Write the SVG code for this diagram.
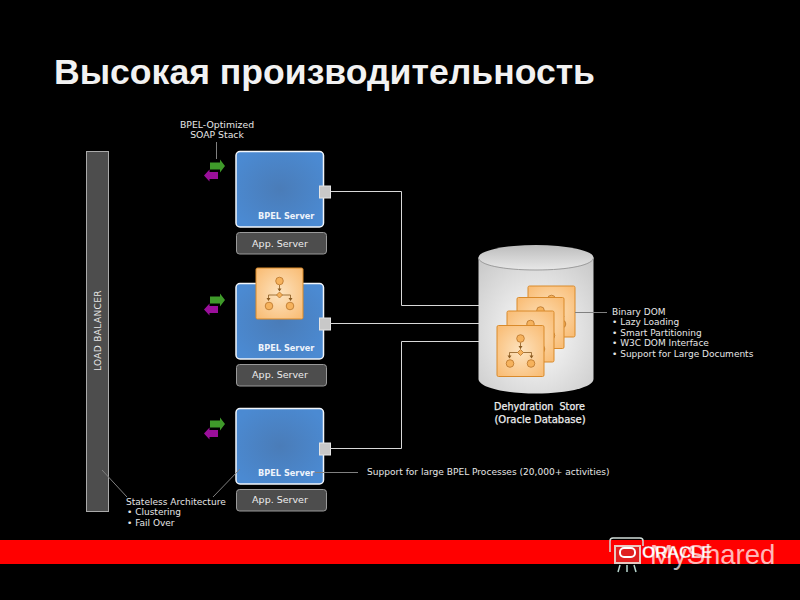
<svg xmlns="http://www.w3.org/2000/svg" width="800" height="600" viewBox="0 0 800 600">
<style>
text{font-family:"DejaVu Sans","Liberation Sans",sans-serif;font-size:9px;fill:#e6e6e6}
.title{font-family:"Liberation Sans",Arial,sans-serif;font-size:35.6px;font-weight:bold;fill:#f2f2f2}
.bp{font-weight:bold;fill:#eef3fb;font-size:8.2px}
.app{font-size:9.5px;text-anchor:middle;fill:#eee}
.db{font-size:9.6px;text-anchor:middle;fill:#eee;stroke:#eee;stroke-width:.25;white-space:pre}
.conn{fill:none;stroke:#d8d8d8;stroke-width:1}
.lead{fill:none;stroke:#808080;stroke-width:1}
.server{fill:url(#blue);stroke:#f2f6fb;stroke-width:1.5}
.appbox{fill:#4d4d4d;stroke:#9a9a9a;stroke-width:1}
.port{fill:#c8c8c8;stroke:#e4e4e4;stroke-width:1}
.page{fill:url(#peach);stroke:#d98a2b;stroke-width:1}
.n{fill:#f6b25c;stroke:#b8742a;stroke-width:.8}
.l{fill:none;stroke:#8a5a20;stroke-width:.8}
.h{fill:#8a5a20}
.mark{font-family:"Liberation Sans",sans-serif}
</style>
<defs>
<radialGradient id="blue" cx="50%" cy="50%" r="60%"><stop offset="0" stop-color="#4a7cb8"/><stop offset="1" stop-color="#4b8ad2"/></radialGradient>
<radialGradient id="peach" cx="50%" cy="50%" r="65%"><stop offset="0" stop-color="#fde3bf"/><stop offset="1" stop-color="#f9bd76"/></radialGradient>
<radialGradient id="cyl" cx="50%" cy="55%" r="70%"><stop offset="0" stop-color="#ffffff"/><stop offset="1" stop-color="#cacaca"/></radialGradient>
<linearGradient id="cyltop" x1="0" y1="0" x2="0" y2="1"><stop offset="0" stop-color="#bcbcbc"/><stop offset="1" stop-color="#e8e8e8"/></linearGradient>
<g id="doc">
<rect class="page" x="0" y="0" width="47" height="51" rx="1.5"/>
<path class="l" d="M23.500 17V23M12.500 31V27H34.500V31"/>
<path class="h" d="M21.500 20.500h4l-2 3zM10.500 30h4l-2 3zM32.500 30h4l-2 3z"/>
<circle class="n" cx="23.500" cy="13" r="3.800"/>
<path class="n" d="M23.500 24l3 3-3 3-3-3z"/>
<circle class="n" cx="13" cy="38" r="3.800"/>
<circle class="n" cx="34" cy="38" r="3.800"/>
</g>
<g id="arrows">
<path fill="#3f9a2a" d="M6 -3.500H16V-6.500L21 0L16 6.500V3.500H6Z"/>
<path fill="#9a0f9a" d="M14 6H5.500V3.500L0 9.500L5.500 15.500V13H14Z"/>
</g>
</defs>
<rect width="800" height="600" fill="#000"/>
<text class="title" x="54" y="84">Высокая производительность</text>
<rect x="0" y="540" width="800" height="24" fill="#ff0000"/>

<g id="load-balancer">
<rect x="86.500" y="151.500" width="22" height="360" fill="#4d4d4d" stroke="#aaa" stroke-width="1"/>
<text transform="translate(101,371) rotate(-90)" style="letter-spacing:.35px">LOAD BALANCER</text>
</g>

<g id="soap-label">
<text x="217" y="128" text-anchor="middle" style="font-size:9.300px">BPEL-Optimized</text>
<text x="217" y="138" text-anchor="middle" style="font-size:9.300px">SOAP Stack</text>
</g>
<g id="arrows-1"><use href="#arrows" x="204" y="166"/></g>
<g id="arrows-2"><use href="#arrows" x="204" y="300"/></g>
<g id="arrows-3"><use href="#arrows" x="204" y="424"/></g>

<g id="bpel-server-1">
<rect class="server" x="236" y="151.500" width="87.500" height="75.500" rx="4"/>
<text class="bp" x="258" y="219">BPEL Server</text>
<rect class="port" x="319.500" y="186" width="11" height="12"/>
</g>
<g id="app-server-1">
<rect class="appbox" x="236.500" y="232.500" width="90" height="21.500" rx="3"/>
<text class="app" x="280" y="247">App. Server</text>
</g>

<g id="bpel-server-2">
<rect class="server" x="236" y="283.500" width="87.500" height="75.500" rx="4"/>
<text class="bp" x="258" y="351">BPEL Server</text>
<rect class="port" x="319.500" y="318" width="11" height="12"/>
<use href="#doc" x="256" y="268"/>
</g>
<g id="app-server-2">
<rect class="appbox" x="236.500" y="364.500" width="90" height="21.500" rx="3"/>
<text class="app" x="280" y="378">App. Server</text>
</g>

<g id="bpel-server-3">
<rect class="server" x="236" y="408.500" width="87.500" height="75.500" rx="4"/>
<text class="bp" x="258" y="476">BPEL Server</text>
<rect class="port" x="319.500" y="443" width="11" height="12"/>
</g>
<g id="app-server-3">
<rect class="appbox" x="236.500" y="489.500" width="90" height="21.500" rx="3"/>
<text class="app" x="280" y="503">App. Server</text>
</g>

<g id="support-label"><text x="367" y="475" style="font-size:9.050px">Support for large BPEL Processes (20,000+ activities)</text></g>
<g id="stateless-label">
<text x="126" y="505" style="font-size:9.050px">Stateless Architecture</text>
<text x="127" y="515">• Clustering</text>
<text x="127" y="526">• Fail Over</text>
</g>

<g id="dehydration-store">
<path d="M478.500 258V379C478.500 387 503 393.500 536 393.500S593.500 387 593.500 379V258Z" fill="url(#cyl)"/>
<ellipse cx="536" cy="257.500" rx="57.500" ry="12.500" fill="url(#cyltop)"/>
<path d="M478.500 257.500C478.500 265 503 270 536 270S593.500 265 593.500 257.500" fill="none" stroke="#9c9c9c" stroke-width="1"/>
<use href="#doc" x="528" y="286"/>
<use href="#doc" x="517" y="297.500"/>
<use href="#doc" x="507" y="311"/>
<use href="#doc" x="497" y="325.500"/>
<text class="db" x="539.500" y="410">Dehydration  Store</text>
<text class="db" x="540" y="423" style="font-size:10px">(Oracle Database)</text>
</g>
<g id="dom-label">
<text x="612" y="315">Binary DOM</text>
<text x="612" y="325">• Lazy Loading</text>
<text x="612" y="336">• Smart Partitioning</text>
<text x="612" y="346">• W3C DOM Interface</text>
<text x="612" y="357">• Support for Large Documents</text>
</g>

<g id="connectors">
<path class="conn" d="M331 191.500H401.500V305.500H479"/>
<path class="conn" d="M330 323.500H479"/>
<path class="conn" d="M330 448.500H401.500V341.500H479"/>
<path class="lead" d="M216.500 142V159"/>
<path class="lead" d="M102 470L127 497"/>
<path class="lead" d="M240 469L213 497"/>
<path class="lead" d="M315 472.500H358"/>
<path class="lead" d="M575 312.500H607"/>
</g>

<g id="watermark">
<path d="M610 552V541Q610 538 613 538H640Q643 538 643 541V546" fill="none" stroke="#d0dcd8" stroke-width="1.500"/>
<rect x="615" y="546" width="25" height="17" fill="#e02020" stroke="#e8c8c0" stroke-width="2"/>
<rect x="620" y="548" width="15" height="9" rx="4" fill="none" stroke="#fff" stroke-width="2"/>
<path d="M620 565L618 572M627 565V572M634 565L636 572" stroke="#b8d8d0" stroke-width="1.500" fill="none"/>
<text class="mark" x="642" y="558" style="font-size:17px;font-weight:bold;fill:#fff;stroke:#d33;stroke-width:.3;letter-spacing:-.3px">ORACLE</text>
<text class="mark" x="650" y="564" style="font-size:27.500px;fill:#fff;fill-opacity:.72">MyShared</text>
</g>
</svg>
